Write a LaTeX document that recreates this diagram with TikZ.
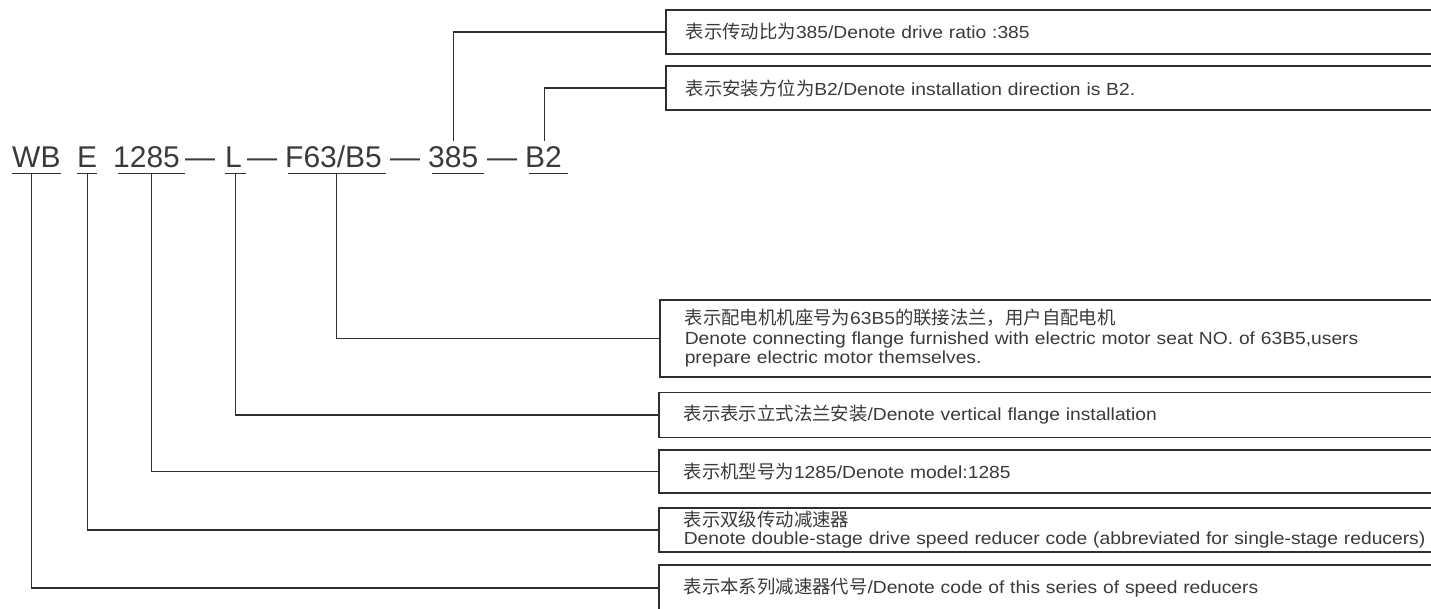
\documentclass[tikz,border=0pt]{standalone}
\usepackage{fontspec}
\setmainfont{Liberation Sans}
\newfontfamily\cjk[Scale=1.05]{Noto Sans CJK SC}
\newfontfamily\lbl[FakeStretch=1.1]{Liberation Sans}
\usetikzlibrary{positioning}
\definecolor{linegray}{HTML}{2E2E2E}
\definecolor{textgray}{HTML}{3A3A3A}

\tikzset{
  code/.style={anchor=base west,inner xsep=0pt,inner ysep=0pt,text depth=0pt,
    font=\fontsize{30}{30}\selectfont,text=textgray},
  descbox/.style={draw=linegray,line width=1.5pt,anchor=west,text width=760pt,
    align=left,inner xsep=20pt,inner ysep=0pt,text=textgray,
    font=\lbl\fontsize{17.5}{19.5}\selectfont},
  lowbox/.style={descbox,inner xsep=25pt},
  link/.style={draw=linegray,line width=1.3pt},
}

\begin{document}
\begin{tikzpicture}[x=1pt,y=-1pt]
  \useasboundingbox (0,0) rectangle (1431,608);
  \clip (0,0) rectangle (1431,608);

  % type code
  \node[code] (wb) at (12,167) {WB};
  \node[code] (e) at (77,167) {E};
  \node[code] (model) at (113,167) {1285};
  \node[code] (d1) at (185,167) {—};
  \node[code] (l) at (225,167) {L};
  \node[code] (d2) at (247,167) {—};
  \node[code] (flange) at (285,167) {F63/B5};
  \node[code] (d3) at (390,167) {—};
  \node[code] (ratio) at (428,167) {385};
  \node[code] (d4) at (487,167) {—};
  \node[code] (mount) at (525,167) {B2};

  \draw[link] ([yshift=-6pt]wb.south west) -- ([yshift=-6pt]wb.south east);
  \draw[link] ([yshift=-6pt]e.south west) -- ([yshift=-6pt]e.south east);
  \draw[link] ([xshift=5pt,yshift=-6pt]model.south west) -- ([xshift=5pt,yshift=-6pt]model.south east);
  \draw[link] ([yshift=-6pt]l.south west) -- ([xshift=4pt,yshift=-6pt]l.south east);
  \draw[link] ([xshift=3pt,yshift=-6pt]flange.south west) -- ([xshift=4pt,yshift=-6pt]flange.south east);
  \draw[link] ([xshift=4pt,yshift=-6pt]ratio.south west) -- ([xshift=6pt,yshift=-6pt]ratio.south east);
  \draw[link] ([xshift=4pt,yshift=-6pt]mount.south west) -- ([xshift=6pt,yshift=-6pt]mount.south east);

  % descriptions
  \node[descbox,minimum height=44pt] (ratiobox) at (665,32) {{\cjk 表示传动比为}385/Denote drive ratio :385};
  \node[descbox,minimum height=44pt] (mountbox) at (665,88) {{\cjk 表示安装方位为}B2/Denote installation direction is B2.};
  \node[lowbox,minimum height=77pt] (flangebox) at (659,338.5) {{\cjk 表示配电机机座号为}63B5{\cjk 的联接法兰，用户自配电机}\\
    Denote connecting flange furnished with electric motor seat NO. of 63B5,users\\
    prepare electric motor themselves.};
  \node[lowbox,minimum height=45pt] (lbox) at (658,415) {{\cjk 表示表示立式法兰安装}/Denote vertical flange installation};
  \node[lowbox,minimum height=43pt] (modelbox) at (658,471.5) {{\cjk 表示机型号为}1285/Denote model:1285};
  \node[lowbox,minimum height=44pt,font=\lbl\fontsize{17.5}{18}\selectfont] (stagebox) at (658,530) {{\cjk 表示双级传动减速器}\\
    Denote double-stage drive speed reducer code (abbreviated for single-stage reducers)};
  \node[lowbox,minimum height=46pt] (seriesbox) at (658,588) {{\cjk 表示本系列减速器代号}/Denote code of this series of speed reducers};

  % leaders
  \draw[link] ([yshift=5pt]ratio.north) |- (ratiobox.west);
  \draw[link] ([xshift=1pt,yshift=5pt]mount.north) |- (mountbox.west);
  \draw[link] ([xshift=3pt,yshift=-6pt]flange.south) |- (flangebox.west);
  \draw[link] ([xshift=2pt,yshift=-6pt]l.south) |- (lbox.west);
  \draw[link] ([xshift=5pt,yshift=-6pt]model.south) |- (modelbox.west);
  \draw[link] ([yshift=-6pt]e.south) |- (stagebox.west);
  \draw[link] ([xshift=-5pt,yshift=-6pt]wb.south) |- (seriesbox.west);
\end{tikzpicture}
\end{document}
